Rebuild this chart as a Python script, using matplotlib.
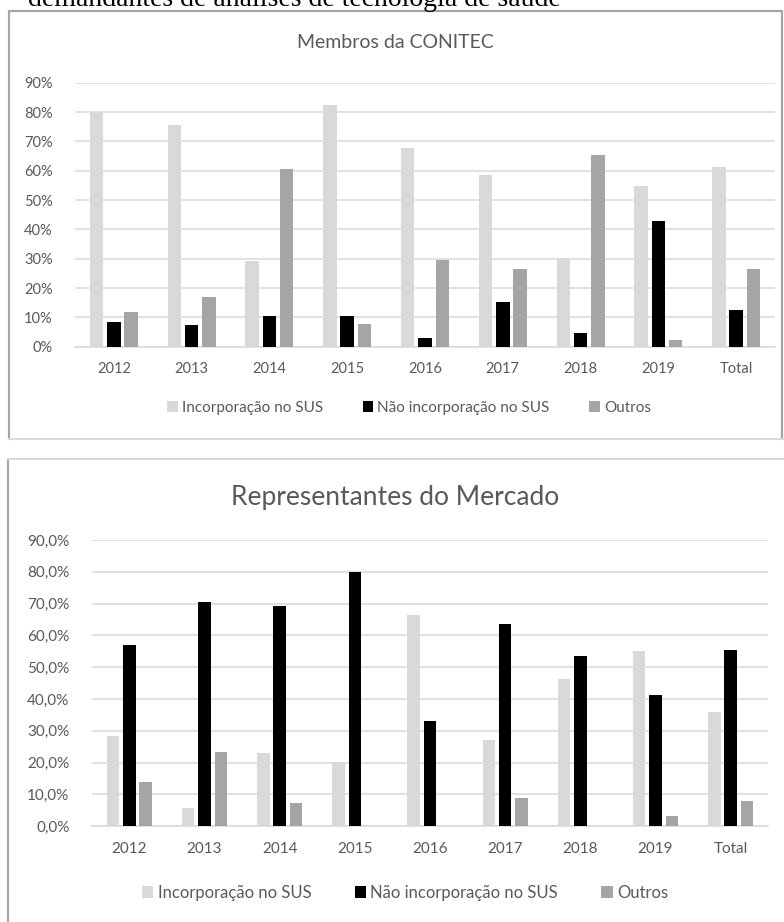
import matplotlib
matplotlib.use("Agg")
import matplotlib.pyplot as plt
from matplotlib.patches import Patch
from matplotlib.lines import Line2D
from matplotlib.ticker import FuncFormatter

categories = ["2012", "2013", "2014", "2015", "2016", "2017", "2018", "2019", "Total"]
series_names = ["Incorporação no SUS", "Não incorporação no SUS", "Outros"]

# Membros da CONITEC (%)
conitec_incorp = [80.0, 75.6, 29.2, 82.4, 67.9, 58.7, 30.2, 54.8, 61.4]
conitec_nao = [8.5, 7.5, 10.5, 10.3, 3.0, 15.2, 4.6, 43.0, 12.5]
conitec_outros = [11.9, 17.1, 60.7, 7.9, 29.5, 26.6, 65.3, 2.3, 26.6]

# Representantes do Mercado (%)
mercado_incorp = [28.5, 5.9, 22.9, 20.1, 66.5, 27.1, 46.2, 55.1, 36.0]
mercado_nao = [57.0, 70.5, 69.2, 80.0, 33.1, 63.6, 53.4, 41.3, 55.4]
mercado_outros = [14.0, 23.3, 7.4, 0.0, 0.0, 8.8, 0.0, 3.2, 7.9]

colors = ["#d9d9d9", "#000000", "#a5a5a5"]
text_col = "#595959"
grid_col = "#d9d9d9"

W, H = 784, 922
fig = plt.figure(figsize=(W / 100, H / 100), dpi=100)


def px_axes(x0, y0, x1, y1):
    # pixel box (top-left origin) -> figure axes
    return fig.add_axes([x0 / W, 1 - y1 / H, (x1 - x0) / W, (y1 - y0) / H])


def frame_line(xs, ys, color, lw):
    fig.add_artist(Line2D([x / W for x in xs], [1 - y / H for y in ys],
                          color=color, lw=lw, transform=fig.transFigure))


# caption cut off at the top
fig.text(28 / W, 1 - 6 / H, "demandantes de análises de tecnologia de saúde",
         family="Liberation Serif", fontsize=20, va="baseline", ha="left")

# panel frames
frame_line([9, 9, 782, 782], [439, 11, 11, 439], "#a6a6a6", 1.6)
frame_line([9, 784], [439, 439], "#d9d9d9", 1.4)
frame_line([8, 8], [922, 459], "#a6a6a6", 1.6)
frame_line([8, 784], [459, 459], "#d9d9d9", 1.4)


def draw_panel(box, data, title, title_y, fmt, width, offset,
               tick_fs, ytick_fs, title_fs, legend_y, legend_x, leg_fs, colspace):
    font = ["Lato", "DejaVu Sans"]
    ax = px_axes(*box)
    x = list(range(len(categories)))
    for i, (vals, col) in enumerate(zip(data, colors)):
        ax.bar([xi + (i - 1) * offset for xi in x], [v / 100 for v in vals],
               width=width, color=col, zorder=3)
    ax.set_xlim(-0.5, len(categories) - 0.5)
    ax.set_ylim(0, 0.9)
    ax.set_yticks([k / 10 for k in range(10)])
    ax.yaxis.set_major_formatter(FuncFormatter(fmt))
    ax.set_xticks(x)
    ax.set_xticklabels(categories)
    ax.grid(axis="y", color=grid_col, lw=1.1, zorder=0)
    for s in ["top", "right", "left"]:
        ax.spines[s].set_visible(False)
    ax.spines["bottom"].set_color(grid_col)
    ax.spines["bottom"].set_linewidth(1.1)
    ax.tick_params(length=0, colors=text_col)
    ax.tick_params(axis="x", pad=11, labelsize=tick_fs)
    ax.tick_params(axis="y", pad=16, labelsize=ytick_fs)
    for lab in ax.get_xticklabels() + ax.get_yticklabels():
        lab.set_family(font)
    fig.text(395 / W, 1 - title_y / H, title, ha="center", va="center",
             color=text_col, fontsize=title_fs, family=font)
    handles = [Patch(facecolor=c, edgecolor="none") for c in colors]
    fig.legend(handles, series_names, loc="center",
               bbox_to_anchor=(legend_x / W, 1 - legend_y / H),
               ncol=3, frameon=False, handlelength=0.7, handleheight=0.7,
               handletextpad=0.25, columnspacing=colspace,
               prop={"family": font, "size": leg_fs}, labelcolor=text_col)
    return ax


draw_panel((75, 82.7, 775, 346.7),
           [conitec_incorp, conitec_nao, conitec_outros],
           "Membros da CONITEC", 42,
           lambda v, p: f"{v * 100:.0f}%",
           0.174, 0.222, 10.5, 10.5, 14, 408, 409, 11, 2.6)

draw_panel((91.7, 539.9, 768.3, 826.3),
           [mercado_incorp, mercado_nao, mercado_outros],
           "Representantes do Mercado", 497,
           lambda v, p: f"{v * 100:.1f}%".replace(".", ","),
           0.166, 0.217, 11, 11, 19, 893, 405, 12, 2.6)

fig.savefig("out.png", dpi=100)
